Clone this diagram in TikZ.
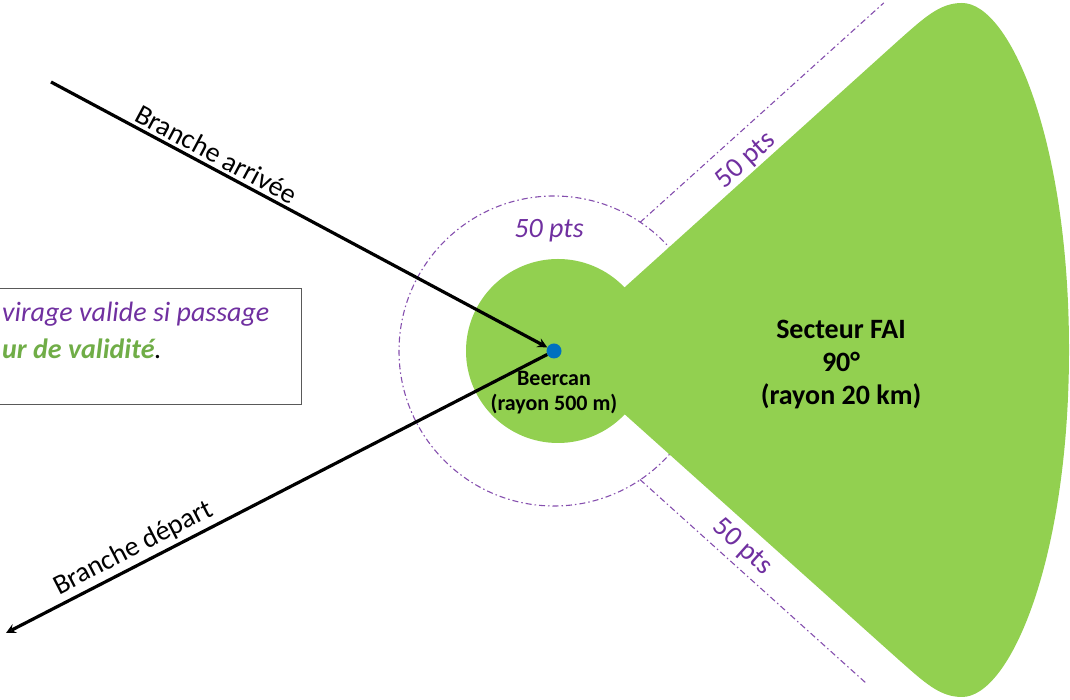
\documentclass[tikz,border=0pt]{standalone}
\usepackage{fontspec}
\setmainfont{Carlito}
\usepackage{xcolor}
\usepackage{tikz}
\usetikzlibrary{positioning,arrows}

\definecolor{faigreen}{RGB}{146,208,80}
\definecolor{ptspurple}{RGB}{112,48,160}
\definecolor{dotblue}{RGB}{0,112,192}
\definecolor{validgreen}{RGB}{112,173,71}
\definecolor{boxgray}{RGB}{89,89,89}

\tikzset{
  zone/.style={fill=faigreen, draw=none},
  limit/.style={draw=ptspurple!85, line width=1.1pt, dash pattern=on 6pt off 3pt on 1.5pt off 3pt},
  pts/.style={text=ptspurple, font=\fontsize{28}{30}\selectfont},
  branchlabel/.style={above, sloped, font=\fontsize{28}{30}\selectfont},
  boldlabel/.style={font=\bfseries\fontsize{28}{33}\selectfont, align=center}
}

\begin{document}
\begin{tikzpicture}[x=1pt, y=1pt]
  \useasboundingbox (0,0) rectangle (1070,700);
  \clip (0,0) rectangle (1070,700);
  \coordinate (C)       at (554,349);
  \coordinate (arrivee) at (51,618);
  \coordinate (depart)  at (6,67);

  \draw[limit] (C) circle (155);
  \begin{scope}[shift={(C)}, rotate=42]
    \draw[limit] (150,38) -- (478,38);
    \node[pts, transform shape] (ptsup) at (270,13) {50 pts};
  \end{scope}
  \begin{scope}[shift={(C)}, rotate=-42]
    \draw[limit] (150,-38) -- (455,-38);
    \node[pts, transform shape] (ptsdown) at (271,-20) {50 pts};
  \end{scope}

  \fill[zone] (558,349) circle (92);
  \fill[zone] (C) -- (899,660)
    .. controls (925,683) and (940,697) .. (962,697)
    .. controls (1010,697) and (1069,560) .. (1069,350)
    .. controls (1069,140) and (1010,3) .. (962,3)
    .. controls (940,3) and (925,17) .. (899,40) -- cycle;

  \node[circle, fill=dotblue, inner sep=0pt, minimum size=15pt] (beercan) at (C) {};
  \node[font=\bfseries\fontsize{22}{25}\selectfont, align=center, below=9pt of beercan] (beerlabel) {Beercan\\(rayon 500 m)};
  \node[boldlabel] (fai) at (841,335) {Secteur FAI\\90°\\(rayon 20 km)};
  \node[pts, font=\itshape\fontsize{28}{30}\selectfont] (ptstop) at (549,469) {50 pts};

  \path[->, >=stealth, line width=3.2pt]
    (arrivee) edge node[branchlabel, pos=0.32] {Branche arrivée} (beercan)
    (beercan) edge node[branchlabel, pos=0.75] {Branche départ} (depart);

  \node[draw=boxgray, line width=1.5pt, minimum width=330pt, minimum height=116pt, inner sep=0pt, anchor=north east] (notebox) at (302,412) {};
  \node[anchor=north west, align=left, inner sep=0pt, font=\itshape\fontsize{28}{37}\selectfont] (notetext) at (2,398)
    {\textcolor{ptspurple}{virage valide si passage}\\\textcolor{validgreen}{\bfseries ur de validité}.};
\end{tikzpicture}
\end{document}
